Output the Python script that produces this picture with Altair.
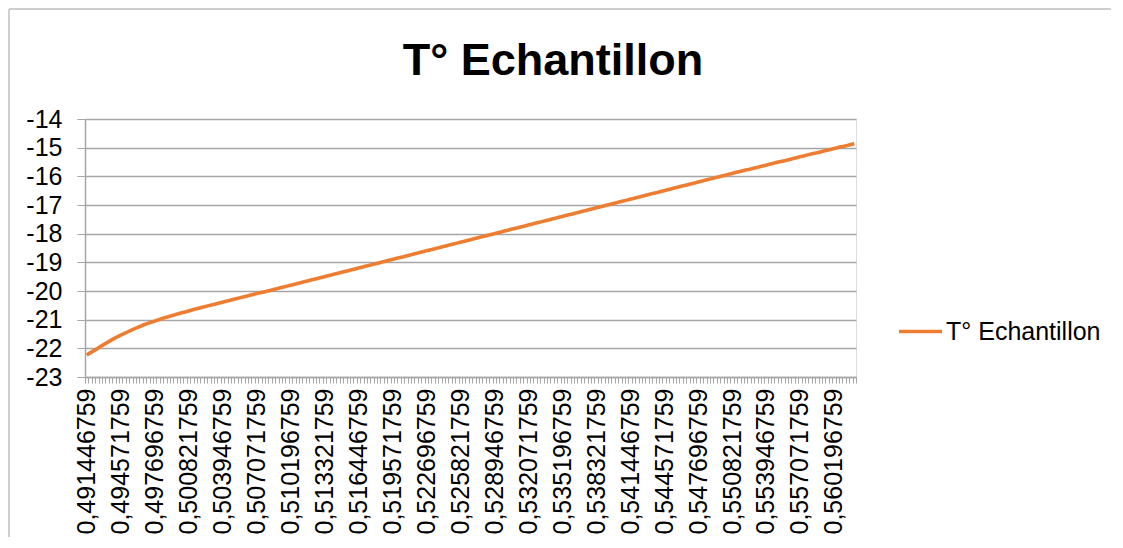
import json
import altair as alt
import pandas as pd

SERIES = "T° Echantillon"
TITLE = "T° Echantillon"

# time (fraction of day) of first sample and sampling step
X_START = 0.491446759
X_STEP = 0.0003125

TICK_LABELS = [
    "0,491446759", "0,494571759", "0,497696759", "0,500821759", "0,503946759",
    "0,507071759", "0,510196759", "0,513321759", "0,516446759", "0,519571759",
    "0,522696759", "0,525821759", "0,528946759", "0,532071759", "0,535196759",
    "0,538321759", "0,541446759", "0,544571759", "0,547696759", "0,550821759",
    "0,553946759", "0,557071759", "0,560196759",
]

TEMPS = [
    -22.23, -22.16, -22.09, -22.02, -21.94, -21.87, -21.80, -21.73, -21.66, -21.60,
    -21.54, -21.49, -21.43, -21.37, -21.32, -21.27, -21.22, -21.17, -21.13, -21.09,
    -21.05, -21.01, -20.97, -20.93, -20.90, -20.86, -20.83, -20.79, -20.76, -20.73,
    -20.70, -20.66, -20.63, -20.60, -20.57, -20.54, -20.51, -20.48, -20.45, -20.42,
    -20.39, -20.36, -20.33, -20.30, -20.27, -20.24, -20.21, -20.18, -20.15, -20.12,
    -20.09, -20.06, -20.04, -20.01, -19.98, -19.95, -19.92, -19.89, -19.86, -19.83,
    -19.80, -19.77, -19.74, -19.71, -19.68, -19.65, -19.62, -19.59, -19.56, -19.53,
    -19.50, -19.47, -19.44, -19.41, -19.38, -19.35, -19.32, -19.29, -19.26, -19.23,
    -19.20, -19.17, -19.14, -19.11, -19.08, -19.05, -19.02, -18.99, -18.96, -18.93,
    -18.90, -18.87, -18.84, -18.81, -18.78, -18.75, -18.72, -18.69, -18.66, -18.63,
    -18.60, -18.57, -18.54, -18.51, -18.48, -18.45, -18.42, -18.39, -18.36, -18.33,
    -18.30, -18.27, -18.24, -18.21, -18.18, -18.15, -18.12, -18.09, -18.06, -18.03,
    -18.00, -17.97, -17.94, -17.91, -17.88, -17.85, -17.82, -17.79, -17.76, -17.73,
    -17.70, -17.67, -17.64, -17.61, -17.58, -17.55, -17.52, -17.49, -17.46, -17.43,
    -17.40, -17.37, -17.34, -17.31, -17.28, -17.25, -17.22, -17.19, -17.16, -17.13,
    -17.10, -17.07, -17.04, -17.01, -16.98, -16.95, -16.92, -16.89, -16.86, -16.83,
    -16.80, -16.77, -16.74, -16.71, -16.68, -16.65, -16.62, -16.59, -16.56, -16.53,
    -16.50, -16.47, -16.44, -16.41, -16.38, -16.35, -16.32, -16.29, -16.26, -16.23,
    -16.20, -16.17, -16.14, -16.11, -16.08, -16.05, -16.02, -15.99, -15.96, -15.93,
    -15.90, -15.87, -15.84, -15.81, -15.78, -15.76, -15.73, -15.70, -15.67, -15.64,
    -15.61, -15.58, -15.55, -15.52, -15.49, -15.47, -15.44, -15.41, -15.38, -15.35,
    -15.32, -15.29, -15.26, -15.23, -15.20, -15.18, -15.15, -15.12, -15.09, -15.06,
    -15.03, -15.00, -14.97, -14.95, -14.92, -14.89, -14.86,
]

Y_TICKS = [-23, -22, -21, -20, -19, -18, -17, -16, -15, -14]

CATEGORIES = [f"{X_START + i * X_STEP:.9f}".replace(".", ",") for i in range(len(TEMPS))]

df = pd.DataFrame({"t": CATEGORIES, "v": TEMPS, "s": SERIES})

FONT = "Liberation Sans"
GRID = "#A6A6A6"
ORANGE = "#ED7D31"
W, H = 771, 258

label_expr = "indexof(%s, datum.value) >= 0 ? datum.value : ''" % json.dumps(TICK_LABELS)

line = alt.Chart(df).mark_line(strokeWidth=3.6, color=ORANGE).encode(
    x=alt.X(
        "t:N",
        sort=CATEGORIES,
        scale=alt.Scale(paddingInner=0, paddingOuter=0),
        axis=alt.Axis(
            title=None,
            labelExpr=label_expr,
            labelAngle=270,
            labelAlign="right",
            labelBaseline="middle",
            labelFont=FONT,
            labelFontSize=25,
            labelColor="#000000",
            labelPadding=5,
            labelOverlap=False,
            labelLimit=400,
            labelBound=False,
            tickBand="extent",
            tickSize=6,
            tickColor=GRID,
            tickWidth=1,
            domainColor=GRID,
            domainWidth=1.5,
            grid=False,
        ),
    ),
    y=alt.Y(
        "v:Q",
        scale=alt.Scale(domain=[-23, -14], nice=False, zero=False),
        axis=alt.Axis(
            title=None,
            values=Y_TICKS,
            labelExpr="'' + datum.value",
            labelFont=FONT,
            labelFontSize=25,
            labelColor="#000000",
            labelPadding=15,
            tickSize=8,
            tickColor=GRID,
            domainColor=GRID,
            domainWidth=1.5,
            gridColor=GRID,
            gridWidth=1.5,
        ),
    ),
    color=alt.Color(
        "s:N",
        scale=alt.Scale(domain=[SERIES], range=[ORANGE]),
        legend=alt.Legend(
            title=None,
            orient="none",
            legendX=812,
            legendY=189,
            padding=0,
            symbolType="stroke",
            symbolSize=1849,
            symbolStrokeWidth=3.5,
            labelFont=FONT,
            labelFontSize=25,
            labelColor="#000000",
            labelOffset=2,
        ),
    ),
)

title_df = pd.DataFrame({"label": [TITLE]})
title = alt.Chart(title_df).mark_text(
    font=FONT, fontSize=45, fontWeight="bold", color="#000000",
    align="center", baseline="alphabetic",
).encode(text="label:N", x=alt.value(468), y=alt.value(-44))

frame_df = pd.DataFrame({"k": [0]})
frame_top = alt.Chart(frame_df).mark_rule(color="#BFBFBF", strokeWidth=1.5).encode(
    x=alt.value(-76), x2=alt.value(1040), y=alt.value(-110)
)
frame_left = alt.Chart(frame_df).mark_rule(color="#BFBFBF", strokeWidth=1.5).encode(
    x=alt.value(-76), y=alt.value(-110), y2=alt.value(430)
)

chart = alt.layer(frame_top, frame_left, line, title).properties(
    width=W,
    height=H,
    padding={"left": 77, "top": 111, "right": 255, "bottom": 160},
    autosize=alt.AutoSizeParams(type="none"),
).configure_view(stroke=None).configure(background="#FFFFFF")

chart.save("out.html", embed_options={"renderer": "svg", "actions": False})
